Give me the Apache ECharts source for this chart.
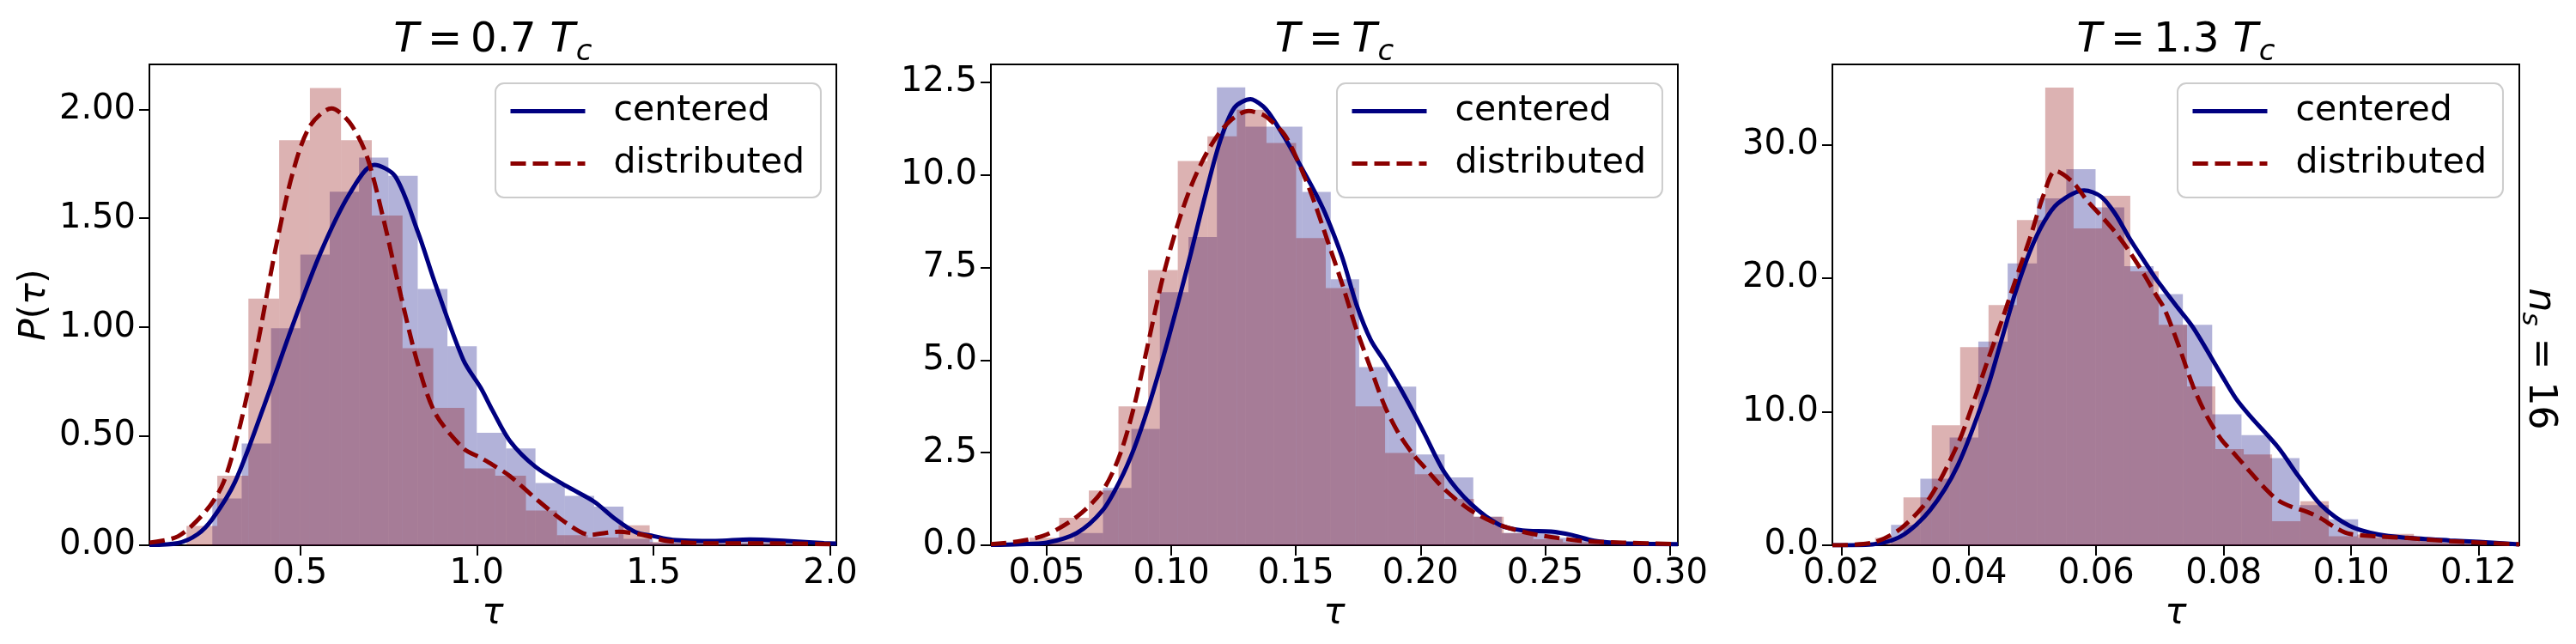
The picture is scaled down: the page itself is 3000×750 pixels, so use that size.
<!DOCTYPE html>
<html>
<head>
<meta charset="utf-8">
<title>P(tau) distributions</title>
<script src="https://cdn.jsdelivr.net/npm/echarts@6.0.0/dist/echarts.min.js"></script>
<style>
  html, body { margin: 0; padding: 0; background: #fff; }
  #chart { width: 3000px; height: 750px; }
</style>
</head>
<body>
<div id="chart"></div>
<script>
// ---------- T = 0.7 Tc ----------
const ticksX1 = [0.5, 1.0, 1.5, 2.0];
const ticksY1 = [0, 0.5, 1.0, 1.5, 2.0];
const edgesCentered1 = [0.252, 0.335, 0.418, 0.501, 0.584, 0.667, 0.750, 0.833, 0.917, 1.000, 1.083,
  1.166, 1.249, 1.332, 1.415, 1.498, 1.581, 1.664, 1.747, 1.830, 1.914];
const histCentered1 = [0.215, 0.467, 0.996, 1.333, 1.622, 1.779, 1.695, 1.176, 0.913, 0.516,
  0.444, 0.286, 0.227, 0.177, 0.030, 0.012, 0.012, 0.012, 0.033, 0.012];
const edgesDistributed1 = [0.179, 0.266, 0.354, 0.441, 0.528, 0.616, 0.703, 0.790, 0.877, 0.965, 1.052,
  1.139, 1.227, 1.314, 1.401, 1.489, 1.576, 1.663, 1.750, 1.838, 1.925];
const histDistributed1 = [0.089, 0.319, 1.132, 1.858, 2.098, 1.858, 1.513, 0.904, 0.630, 0.353,
  0.319, 0.160, 0.046, 0.035, 0.092, 0.015, 0.012, 0.010, 0.010, 0.008];
const kdeTauCentered1 = [0.074, 0.155, 0.21, 0.252, 0.316, 0.397, 0.478, 0.559, 0.640, 0.710, 0.769, 0.834,
  0.883, 0.962, 1.012, 1.044, 1.093, 1.166, 1.255, 1.332, 1.392, 1.449, 1.50, 1.554, 1.675, 1.772, 1.877, 1.982, 2.017];
const kdeCentered1 = [0.002, 0.01, 0.05, 0.12, 0.29, 0.634, 1.004, 1.345, 1.612, 1.745, 1.693, 1.434,
  1.197, 0.85, 0.72, 0.62, 0.48, 0.36, 0.27, 0.20, 0.12, 0.06, 0.042, 0.025, 0.02, 0.027, 0.02, 0.01, 0.008];
const kdeTauDistributed1 = [0.074, 0.155, 0.235, 0.284, 0.332, 0.381, 0.429, 0.478, 0.527, 0.589, 0.640, 0.688,
  0.737, 0.786, 0.834, 0.883, 0.962, 1.012, 1.044, 1.093, 1.174, 1.255, 1.320, 1.400, 1.465, 1.538, 1.66, 1.82, 2.017];
const kdeDistributed1 = [0.012, 0.041, 0.16, 0.29, 0.56, 0.93, 1.345, 1.70, 1.92, 2.004, 1.94, 1.79,
  1.49, 1.14, 0.827, 0.604, 0.445, 0.400, 0.37, 0.318, 0.204, 0.10, 0.048, 0.062, 0.049, 0.02, 0.009, 0.009, 0.004];

// ---------- T = Tc ----------
const ticksX2 = [0.05, 0.10, 0.15, 0.20, 0.25, 0.30];
const ticksY2 = [0, 2.5, 5.0, 7.5, 10.0, 12.5];
const edgesCentered2 = [0.0497, 0.0611, 0.0726, 0.0840, 0.0954, 0.1069, 0.1183, 0.1297, 0.1411, 0.1526, 0.1640,
  0.1754, 0.1869, 0.1983, 0.2097, 0.2212, 0.2326, 0.2440, 0.2554, 0.2669, 0.2783];
const histCentered2 = [0.10, 0.33, 1.55, 3.14, 6.83, 8.32, 12.36, 11.3, 11.3, 9.54,
  7.18, 4.81, 4.28, 2.45, 1.83, 0.77, 0.33, 0.40, 0.20, 0.10];
const edgesDistributed2 = [0.0431, 0.0550, 0.0669, 0.0788, 0.0907, 0.1026, 0.1145, 0.1263, 0.1382, 0.1501, 0.1620,
  0.1739, 0.1858, 0.1977, 0.2096, 0.2215, 0.2334, 0.2453, 0.2572, 0.2691, 0.2809];
const histDistributed2 = [0.20, 0.74, 1.48, 3.75, 7.43, 10.37, 11.04, 11.76, 10.86, 8.29,
  6.94, 3.75, 2.49, 1.92, 1.25, 0.77, 0.33, 0.16, 0.08, 0.05];
const kdeTauCentered2 = [0.0276, 0.0391, 0.05, 0.0621, 0.0724, 0.0793, 0.085, 0.0908, 0.0966, 0.1023, 0.108, 0.1138,
  0.1195, 0.1253, 0.1318, 0.1368, 0.14, 0.1457, 0.1514, 0.1571, 0.1617, 0.1686, 0.1743, 0.18, 0.1857, 0.1914,
  0.1971, 0.2017, 0.2098, 0.2202, 0.2317, 0.2409, 0.2524, 0.2605, 0.2697, 0.2812, 0.3033];
const kdeCentered2 = [0.01, 0.03, 0.07, 0.33, 0.94, 1.73, 2.6, 3.73, 5.04, 6.44, 7.92, 9.49,
  10.89, 11.81, 12.04, 11.85, 11.59, 10.98, 10.3, 9.6, 8.97, 7.77, 6.5, 5.55, 4.95, 4.3,
  3.6, 3.0, 1.95, 1.12, 0.55, 0.4, 0.37, 0.28, 0.12, 0.05, 0.03];
const kdeTauDistributed2 = [0.0276, 0.0391, 0.05, 0.0621, 0.0724, 0.0793, 0.085, 0.0908, 0.0966, 0.1023, 0.108, 0.1138,
  0.1195, 0.1253, 0.131, 0.1368, 0.14, 0.1457, 0.1514, 0.1571, 0.1629, 0.1686, 0.1743, 0.18, 0.1857, 0.1914,
  0.1971, 0.2017, 0.2098, 0.2202, 0.2317, 0.2432, 0.2547, 0.2662, 0.2812, 0.3033];
const kdeDistributed2 = [0.03, 0.11, 0.29, 0.77, 1.47, 2.43, 3.73, 5.48, 7.23, 8.6, 9.7, 10.54,
  11.15, 11.55, 11.72, 11.62, 11.46, 11.06, 10.28, 9.32, 8.18, 7.05, 5.83, 4.78, 3.75, 3.0,
  2.45, 2.1, 1.5, 0.94, 0.55, 0.33, 0.2, 0.11, 0.07, 0.03];

// ---------- T = 1.3 Tc ----------
const ticksX3 = [0.02, 0.04, 0.06, 0.08, 0.10, 0.12];
const ticksY3 = [0, 10, 20, 30];
const edgesCentered3 = [0.0278, 0.0324, 0.0370, 0.0415, 0.0461, 0.0507, 0.0553, 0.0599, 0.0644, 0.0690, 0.0736,
  0.0782, 0.0828, 0.0873, 0.0919, 0.0965, 0.1011, 0.1057, 0.1102, 0.1148, 0.1194, 0.1240];
const histCentered3 = [1.52, 4.99, 8.06, 15.25, 21.1, 25.97, 28.15, 25.3, 20.9, 18.8,
  16.5, 9.8, 8.25, 6.53, 3.0, 1.94, 0.56, 0.48, 0.30, 0.40, 0.20];
const edgesDistributed3 = [0.0253, 0.02975, 0.0342, 0.03865, 0.0431, 0.04755, 0.0520, 0.05645, 0.0609, 0.06535, 0.0698,
  0.07425, 0.0787, 0.08315, 0.0876, 0.09205, 0.0965, 0.10095, 0.1054, 0.10985, 0.1143, 0.11875];
const histDistributed3 = [0.56, 3.58, 8.98, 14.84, 17.98, 24.35, 34.27, 23.72, 26.16, 20.5,
  16.5, 11.9, 7.2, 6.8, 1.8, 3.3, 0.68, 0.80, 0.85, 0.40, 0.20];
const kdeTauCentered3 = [0.0186, 0.0249, 0.0294, 0.0339, 0.0383, 0.0428, 0.0451, 0.0473, 0.0496, 0.0518, 0.054,
  0.0581, 0.0608, 0.063, 0.0652, 0.0675, 0.0693, 0.0707, 0.0726, 0.0752, 0.0796, 0.0819, 0.0841, 0.0886,
  0.0917, 0.0953, 0.0998, 0.1043, 0.1088, 0.1155, 0.12, 0.1264];
const kdeCentered3 = [0.0, 0.07, 0.68, 2.61, 6.0, 11.6, 15.3, 18.9, 22.0, 24.2, 25.6,
  26.57, 26.09, 24.8, 23.0, 21.3, 20.0, 19.1, 17.9, 16.3, 12.8, 11.0, 9.7, 7.3,
  5.2, 3.0, 1.45, 0.8, 0.56, 0.36, 0.25, 0.07];
const kdeTauDistributed3 = [0.0186, 0.0249, 0.0294, 0.0339, 0.0383, 0.0406, 0.0428, 0.0451, 0.0473, 0.0496, 0.0518,
  0.0536, 0.0563, 0.0585, 0.0608, 0.063, 0.0652, 0.0675, 0.0693, 0.0707, 0.0729, 0.0752, 0.0774, 0.0796,
  0.0819, 0.0841, 0.0864, 0.0886, 0.0908, 0.0931, 0.0953, 0.0976, 0.0998, 0.1043, 0.1088, 0.1155, 0.1264];
const kdeDistributed3 = [0.0, 0.19, 1.28, 3.58, 7.6, 10.5, 13.6, 16.7, 19.8, 23.0, 26.3,
  28.03, 27.2, 25.85, 24.64, 23.43, 22.0, 20.28, 18.8, 17.7, 15.0, 11.9, 9.63, 7.94,
  6.73, 5.52, 4.31, 3.35, 2.85, 2.5, 2.0, 1.3, 0.85, 0.66, 0.54, 0.31, 0.07];

const FONT = 'DejaVu Sans';
const NAVY = '#000080';
const DARKRED = '#8b0000';
const LINE_W = 5;
const DASH = [18, 8];

// panel boxes (px)
const panelLeft = [174, 1154, 2134];
const panelTop = 75, panelW = 800, panelH = 560;

function histSeries(name, idx, edges, heights, fill) {
  let data = [];
  for (let i = 0; i < heights.length; i++) {
    data.push([edges[i], edges[i + 1], heights[i]]);
  }
  return {
    type: 'custom',
    name: name,
    xAxisIndex: idx,
    yAxisIndex: idx,
    data: data,
    encode: { x: [0, 1], y: 2 },
    silent: true,
    z: 2,
    renderItem: function (params, api) {
      let lt = api.coord([api.value(0), api.value(2)]);
      let rb = api.coord([api.value(1), 0]);
      return {
        type: 'rect',
        shape: { x: lt[0], y: lt[1], width: rb[0] - lt[0], height: rb[1] - lt[1] },
        style: { fill: fill }
      };
    }
  };
}

function kdeSeries(name, idx, xs, ys, color, dash) {
  return {
    type: 'line',
    name: name,
    xAxisIndex: idx,
    yAxisIndex: idx,
    data: xs.map((x, i) => [x, ys[i]]),
    smooth: 0.3,
    symbol: 'none',
    silent: true,
    z: 4,
    itemStyle: { color: color },
    lineStyle: { color: color, width: LINE_W, type: dash }
  };
}

function xAxisOf(idx, min, max, ticks, digits) {
  return {
    type: 'value',
    gridIndex: idx,
    min: min,
    max: max,
    name: '{i|τ}',
    nameLocation: 'middle',
    nameGap: 38,
    nameTextStyle: { rich: { i: { fontSize: 42, fontStyle: 'italic', fontFamily: FONT, color: '#000' } } },
    axisLine: { show: true, onZero: false, lineStyle: { color: '#000', width: 2 } },
    axisTick: { show: true, length: 12, customValues: ticks, lineStyle: { color: '#000', width: 2 } },
    axisLabel: {
      customValues: ticks,
      formatter: v => v.toFixed(digits),
      fontSize: 40, fontFamily: FONT, color: '#000', margin: 14
    },
    splitLine: { show: false }
  };
}

function yAxisOf(idx, max, ticks, digits) {
  let ax = {
    type: 'value',
    gridIndex: idx,
    min: 0,
    max: max,
    axisLine: { show: true, onZero: false, lineStyle: { color: '#000', width: 2 } },
    axisTick: { show: true, length: 12, customValues: ticks, lineStyle: { color: '#000', width: 2 } },
    axisLabel: {
      customValues: ticks,
      formatter: v => v.toFixed(digits),
      fontSize: 40, fontFamily: FONT, color: '#000', margin: 16
    },
    splitLine: { show: false }
  };
  if (idx === 0) {
    ax.name = '{i|P}({i|τ})';
    ax.nameLocation = 'middle';
    ax.nameGap = 112;
    ax.nameTextStyle = {
      fontSize: 42, fontFamily: FONT, color: '#000',
      rich: { i: { fontSize: 42, fontStyle: 'italic', fontFamily: FONT, color: '#000' } }
    };
  }
  return ax;
}

const titleRich = {
  i: { fontSize: 48, fontStyle: 'italic', fontFamily: FONT, color: '#000', lineHeight: 60 },
  r: { fontSize: 48, fontFamily: FONT, color: '#000', lineHeight: 60, padding: [0, 10, 0, 10] },
  n: { fontSize: 48, fontFamily: FONT, color: '#000', lineHeight: 60, padding: [0, 16, 0, 0] },
  s: { fontSize: 34, fontStyle: 'italic', fontFamily: FONT, color: '#000', padding: [26, 0, 0, 1] }
};

function titleOf(text, cx) {
  return {
    text: text,
    left: cx,
    top: 18,
    padding: 0,
    textAlign: 'center',
    textStyle: { fontSize: 48, fontFamily: FONT, color: '#000', fontWeight: 'normal', rich: titleRich }
  };
}

function legendOf(left) {
  return {
    data: ['centered', 'distributed'],
    orient: 'vertical',
    left: left,
    top: 97,
    padding: [12, 19, 19, 15],
    itemWidth: 87,
    itemHeight: 14,
    itemGap: 20,
    selectedMode: false,
    backgroundColor: 'rgba(255,255,255,0.8)',
    borderColor: '#cccccc',
    borderWidth: 2,
    borderRadius: 10,
    itemStyle: { opacity: 0, borderWidth: 0 },
    lineStyle: { width: LINE_W },
    formatter: '{t|{name}}',
    textStyle: {
      fontSize: 41, fontFamily: FONT, color: '#000',
      rich: { t: { fontSize: 41, fontFamily: FONT, color: '#000', padding: [0, 0, 0, 28] } }
    }
  };
}

let chart = echarts.init(document.getElementById('chart'), null, { renderer: 'canvas' });

let option = {
  animation: false,
  backgroundColor: '#fff',
  title: [
    titleOf('{i|T}{r|=}{n|0.7}{i|T}{s|c}', panelLeft[0] + panelW / 2),
    titleOf('{i|T}{r|=}{i|T}{s|c}', panelLeft[1] + panelW / 2),
    titleOf('{i|T}{r|=}{n|1.3}{i|T}{s|c}', panelLeft[2] + panelW / 2)
  ],
  legend: [legendOf(577), legendOf(1557), legendOf(2536)],
  grid: panelLeft.map(l => ({
    left: l, top: panelTop, width: panelW, height: panelH,
    show: true, borderColor: '#000', borderWidth: 2, backgroundColor: 'transparent'
  })),
  xAxis: [
    xAxisOf(0, 0.074, 2.017, ticksX1, 1),
    xAxisOf(1, 0.0276, 0.3033, ticksX2, 2),
    xAxisOf(2, 0.0186, 0.1264, ticksX3, 2)
  ],
  yAxis: [
    yAxisOf(0, 2.206, ticksY1, 2),
    yAxisOf(1, 12.98, ticksY2, 1),
    yAxisOf(2, 36.0, ticksY3, 1)
  ],
  series: [
    histSeries('hist centered 1', 0, edgesCentered1, histCentered1, 'rgba(0,0,128,0.3)'),
    histSeries('hist distributed 1', 0, edgesDistributed1, histDistributed1, 'rgba(139,0,0,0.3)'),
    kdeSeries('centered', 0, kdeTauCentered1, kdeCentered1, NAVY, 'solid'),
    kdeSeries('distributed', 0, kdeTauDistributed1, kdeDistributed1, DARKRED, DASH),

    histSeries('hist centered 2', 1, edgesCentered2, histCentered2, 'rgba(0,0,128,0.3)'),
    histSeries('hist distributed 2', 1, edgesDistributed2, histDistributed2, 'rgba(139,0,0,0.3)'),
    kdeSeries('centered', 1, kdeTauCentered2, kdeCentered2, NAVY, 'solid'),
    kdeSeries('distributed', 1, kdeTauDistributed2, kdeDistributed2, DARKRED, DASH),

    histSeries('hist centered 3', 2, edgesCentered3, histCentered3, 'rgba(0,0,128,0.3)'),
    histSeries('hist distributed 3', 2, edgesDistributed3, histDistributed3, 'rgba(139,0,0,0.3)'),
    kdeSeries('centered', 2, kdeTauCentered3, kdeCentered3, NAVY, 'solid'),
    kdeSeries('distributed', 2, kdeTauDistributed3, kdeDistributed3, DARKRED, DASH)
  ],
  graphic: [
    {
      type: 'text',
      x: 2957,
      y: 418,
      rotation: -Math.PI / 2,
      style: {
        text: '{i|n}{s|s}{n| = 16}',
        fontSize: 44,
        fontFamily: FONT,
        fill: '#000',
        align: 'center',
        verticalAlign: 'middle',
        rich: {
          i: { fontSize: 44, fontStyle: 'italic', fontFamily: FONT, fill: '#000', lineHeight: 54 },
          n: { fontSize: 44, fontFamily: FONT, fill: '#000', lineHeight: 54 },
          s: { fontSize: 31, fontStyle: 'italic', fontFamily: FONT, fill: '#000', padding: [22, 0, 0, 0] }
        }
      }
    }
  ]
};

chart.setOption(option);
</script>
</body>
</html>
